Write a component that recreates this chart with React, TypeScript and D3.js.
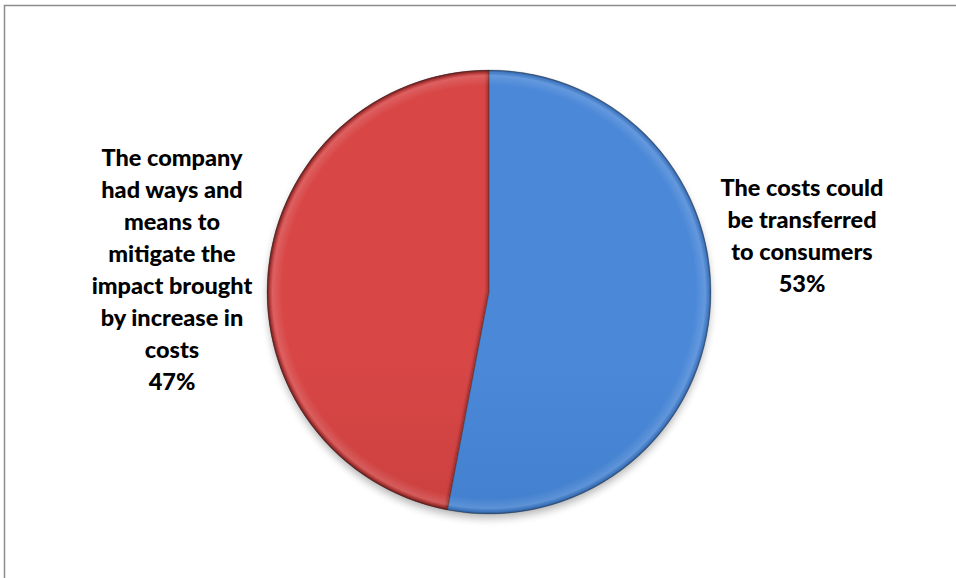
import React from "react";
import * as d3 from "d3";

const categories = [
  "The costs could be transferred to consumers",
  "The company had ways and means to mitigate the impact brought by increase in costs",
];
const values = [53, 47];
const labelLines = [
  ["The costs could", "be transferred", "to consumers", "53%"],
  ["The company", "had ways and", "means to", "mitigate the", "impact brought", "by increase in", "costs", "47%"],
];

const W = 956;
const H = 578;
const cx = 489;
const cy = 292;
const R = 222;

const colors = [
  { top: "#4b88d8", mid: "#3f7dca", bot: "#3262a8" },
  { top: "#d84646", mid: "#c53f3d", bot: "#a33331" },
];

export default function App() {
  const pie = d3.pie<number>().sort(null).value((d) => d);
  const arcs = pie(values);
  const arc = d3.arc<d3.PieArcDatum<number>>().innerRadius(0).outerRadius(R);

  const labelPos = [
    { x: 802, y: 188 },
    { x: 172, y: 158 },
  ];
  const lineH = 32;

  return (
    <div style={{ position: "fixed", left: 0, top: 0 }}>
      <svg width={W} height={H} style={{ display: "block", background: "#fff" }}>
        <defs>
          {colors.map((c, i) => (
            <linearGradient
              key={i}
              id={`g${i}`}
              gradientUnits="userSpaceOnUse"
              x1={0}
              y1={cy - R}
              x2={0}
              y2={cy + R}
            >
              <stop offset="0" stopColor={c.top} />
              <stop offset="0.5" stopColor={c.mid} />
              <stop offset="1" stopColor={c.bot} />
            </linearGradient>
          ))}
          <radialGradient id="edge" cx={cx} cy={cy} r={R} gradientUnits="userSpaceOnUse">
            <stop offset="0.93" stopColor="#fff" stopOpacity={0} />
            <stop offset="0.975" stopColor="#fff" stopOpacity={0.14} />
            <stop offset="0.99" stopColor="#000" stopOpacity={0.08} />
            <stop offset="1" stopColor="#000" stopOpacity={0.45} />
          </radialGradient>
          <filter id="blur" x="-20%" y="-20%" width="140%" height="140%">
            <feGaussianBlur stdDeviation="4" />
          </filter>
          <filter id="sblur" x="-20%" y="-20%" width="140%" height="140%">
            <feGaussianBlur stdDeviation="1.5" />
          </filter>
          <clipPath id="clipRed">
            <path d={arc(arcs[1]) || ""} transform={`translate(${cx},${cy})`} />
          </clipPath>
        </defs>

        <rect x={4.5} y={5.5} width={1000} height={1000} fill="none" stroke="#8c8c8c" strokeWidth={1.5} />

        <circle cx={cx} cy={cy + 5} r={R - 1} fill="#000" opacity={0.3} filter="url(#blur)" />

        <g transform={`translate(${cx},${cy})`}>
          {arcs.map((a, i) => (
            <path key={i} d={arc(a) || ""} fill={`url(#g${i})`} />
          ))}
        </g>
        <g clipPath="url(#clipRed)">
          <path
            d={arc(arcs[1]) || ""}
            transform={`translate(${cx},${cy})`}
            fill="none"
            stroke="#3a0f0f"
            strokeOpacity={0.45}
            strokeWidth={4}
            filter="url(#sblur)"
          />
        </g>
        <circle cx={cx} cy={cy} r={R} fill="url(#edge)" />
        <g transform={`translate(${cx},${cy})`}>
          {arcs.map((a, i) => (
            <path key={"o" + i} d={arc(a) || ""} fill="none" stroke="#202020" strokeOpacity={0.3} strokeWidth={0.8} />
          ))}
        </g>

        {labelLines.map((lines, i) => (
          <text
            key={i}
            textAnchor="middle"
            fontFamily="Lato, 'Open Sans', sans-serif"
            fontWeight={900}
            fontSize={23.5}
            fill="#000"
          >
            {lines.map((l, j) => (
              <tspan key={j} x={labelPos[i].x} y={labelPos[i].y + j * lineH} dy="0.35em">
                {l}
              </tspan>
            ))}
          </text>
        ))}
      </svg>
    </div>
  );
}
